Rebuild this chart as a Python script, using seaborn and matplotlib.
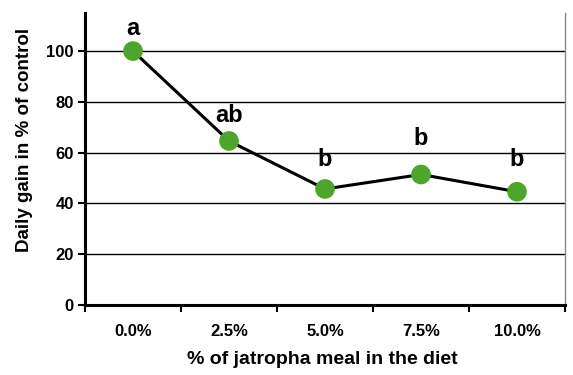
import matplotlib
matplotlib.use("Agg")
import matplotlib.pyplot as plt
import seaborn as sns
import pandas as pd
import numpy as np

categories = ["0.0%", "2.5%", "5.0%", "7.5%", "10.0%"]
values = [100, 64.6, 45.7, 51.4, 44.6]
letters = ["a", "ab", "b", "b", "b"]
letter_y = [109, 74.5, 57.5, 65.5, 57.5]

sns.set_theme(style="white")
plt.rcParams['font.family'] = ['Liberation Sans', 'DejaVu Sans']
plt.rcParams['text.color'] = 'black'
plt.rcParams['axes.labelcolor'] = 'black'
plt.rcParams['xtick.color'] = 'black'
plt.rcParams['ytick.color'] = 'black'

df = pd.DataFrame({"level": categories, "gain": values})

fig = plt.figure(figsize=(5.73, 3.75), dpi=100)
ax = fig.add_axes([85/573, 1-305/375, 480/573, 292/375])

for yv in [20, 40, 60, 80, 100]:
    ax.axhline(yv, color="black", lw=1.0, zorder=0)

sns.pointplot(data=df, x="level", y="gain", order=categories, color="black",
              markers="o", markersize=0, linewidth=2.2, errorbar=None, ax=ax, zorder=2)
ax.scatter(range(len(categories)), values, s=200, color="#4ca62c", zorder=3, edgecolors="none")

for i, (l, ly) in enumerate(zip(letters, letter_y)):
    ax.text(i, ly, l, ha="center", va="center", fontsize=17, fontweight="bold", color="black")

ax.set_xlim(-0.5, 4.5)
ax.set_ylim(0, 115)
ax.set_yticks([0, 20, 40, 60, 80, 100])
ax.set_yticklabels([str(v) for v in [0, 20, 40, 60, 80, 100]], fontsize=12, fontweight="bold")
ax.set_xticks(np.arange(-0.5, 5, 1))
ax.set_xticklabels([""] * 6)
ax.set_xticks(np.arange(5), minor=True)
ax.set_xticklabels(categories, minor=True, fontsize=12, fontweight="bold")
ax.tick_params(axis="x", which="major", direction="out", length=5, width=1.5, color="black", bottom=True)
ax.tick_params(axis="x", which="minor", length=0, pad=14, bottom=True)
ax.tick_params(axis="y", direction="out", length=5, width=1.5, color="black", left=True, pad=3)

for s in ["left", "bottom"]:
    ax.spines[s].set_color("black")
    ax.spines[s].set_linewidth(2.2)
ax.spines["top"].set_visible(False)
ax.spines["right"].set_color("#888888")
ax.spines["right"].set_linewidth(1.0)

ax.set_xlabel("% of jatropha meal in the diet", fontsize=14, fontweight="bold")
ax.set_ylabel("Daily gain in % of control", fontsize=13.5, fontweight="bold")
ax.xaxis.label.set_va("center")
ax.yaxis.label.set_va("center")
ax.xaxis.set_label_coords(0.494, -(360 - 305) / 292)
ax.yaxis.set_label_coords(-(85 - 25) / 480, 0.565)

fig.savefig("out.png", dpi=100)
